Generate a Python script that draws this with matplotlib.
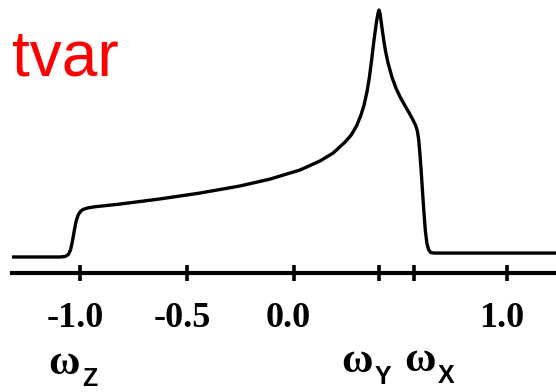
import matplotlib
matplotlib.use("Agg")
import matplotlib.pyplot as plt
import matplotlib.transforms as mtransforms

# Powder-pattern line shape (frequency in units, intensity normalised to peak)
freq = [-1.319, -1.094, -1.070, -1.055, -1.045, -1.036, -1.027, -1.018, -1.008,
        -0.998, -0.986, -0.965, -0.930, -0.813, -0.625, -0.438, -0.250, -0.110,
        0.030, 0.124, 0.185, 0.241, 0.270, 0.295, 0.315, 0.330, 0.344, 0.355,
        0.366, 0.377, 0.388, 0.395, 0.400, 0.405, 0.412, 0.420, 0.430, 0.442,
        0.461, 0.480, 0.499, 0.520, 0.540, 0.560, 0.572, 0.580, 0.586, 0.591,
        0.597, 0.603, 0.610, 0.617, 0.624, 0.632, 0.642, 0.660, 0.874, 1.235]
intensity = [-0.008, -0.008, -0.006, 0.002, 0.020, 0.055, 0.100, 0.140, 0.165,
             0.178, 0.186, 0.192, 0.197, 0.208, 0.229, 0.253, 0.282, 0.310,
             0.347, 0.384, 0.416, 0.461, 0.490, 0.527, 0.570, 0.612, 0.667, 0.725,
             0.800, 0.880, 0.950, 0.985, 1.000, 0.985, 0.940, 0.890, 0.835, 0.785,
             0.725, 0.680, 0.645, 0.612, 0.582, 0.550, 0.528, 0.505, 0.470, 0.420,
             0.350, 0.270, 0.180, 0.100, 0.050, 0.022, 0.010, 0.008, 0.008, 0.008]

tick_values = [-1.0, -0.5, 0.0, 0.40, 0.565, 1.0]
tick_labels = ["-1.0", "-0.5", "0.0", "", "", "1.0"]
# omega markers: (tick value, subscript, x offset of omega centre in px, baseline px)
omega_marks = [(-1.0, "Z", -16, 374), (0.40, "Y", -22, 372), (0.565, "X", 6, 371)]
title_text = "tvar"

W, H = 556, 392
fig = plt.figure(figsize=(W / 100, H / 100), dpi=100)
ax = fig.add_axes([0, 0, 1, 1])
ax.set_xlim(-1.375, 1.229)
ax.set_ylim(-0.559, 1.0408)

ax.plot(freq, intensity, color="black", lw=2.4, solid_joinstyle="round",
        solid_capstyle="butt")

for s in ["top", "right", "left"]:
    ax.spines[s].set_visible(False)
ax.spines["bottom"].set_position(("data", -0.0735))
ax.spines["bottom"].set_linewidth(3.0)
ax.spines["bottom"].set_bounds(-1.319, 1.3)
ax.set_yticks([])
ax.set_xticks(tick_values)
ax.set_xticklabels(tick_labels, fontfamily="Liberation Serif", fontweight="bold",
                   fontsize=26)
ax.tick_params(axis="x", direction="inout", length=12, width=2.6, pad=15,
               colors="black")
shift = mtransforms.ScaledTranslation(-5 / 100, 0, fig.dpi_scale_trans)
for lab in ax.get_xticklabels():
    lab.set_transform(lab.get_transform() + shift)

trans = mtransforms.blended_transform_factory(ax.transData, ax.transAxes)
for xv, sub, dx, ybase in omega_marks:
    off = mtransforms.ScaledTranslation(dx / 100, 0, fig.dpi_scale_trans)
    ax.text(xv, 1 - ybase / H, "\u03c9", transform=trans + off, ha="center",
            va="baseline", fontsize=31, fontweight="bold",
            fontfamily="Liberation Serif", color="black")
    off2 = mtransforms.ScaledTranslation((dx + 18) / 100, 0, fig.dpi_scale_trans)
    ax.text(xv, 1 - (ybase + 12) / H, sub, transform=trans + off2, ha="left",
            va="baseline", fontsize=18, fontweight="bold",
            fontfamily="Liberation Sans", color="black")

fig.text(12 / W, 1 - 75 / H, title_text, color="#ff0000", fontsize=46,
         fontfamily="Liberation Sans", ha="left", va="baseline")

fig.savefig("out.png", dpi=100, facecolor="white")
